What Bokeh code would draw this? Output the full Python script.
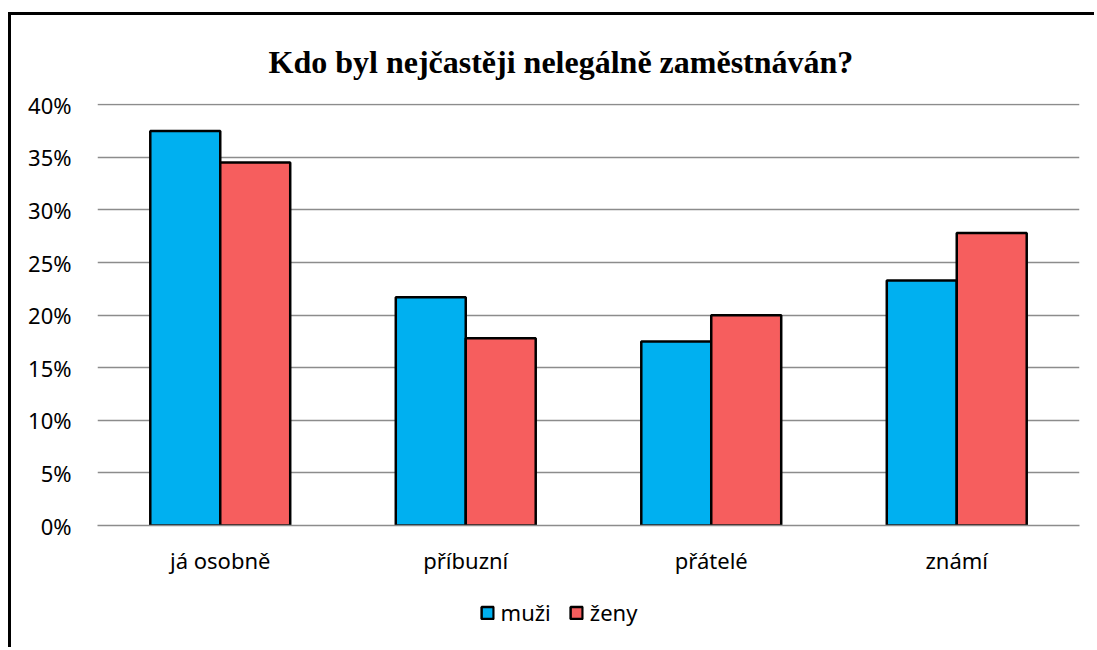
from bokeh.plotting import figure
from bokeh.layouts import column
from bokeh.models import (ColumnDataSource, FactorRange, Range1d, FixedTicker,
                          NumeralTickFormatter, Legend, LegendItem)
from bokeh.transform import dodge
from bokeh.embed import file_html
from bokeh.resources import INLINE

categories = ["já osobně", "příbuzní", "přátelé", "známí"]
muzi = [0.375, 0.217, 0.175, 0.233]
zeny = [0.345, 0.178, 0.200, 0.278]
y_ticks = [0, 0.05, 0.10, 0.15, 0.20, 0.25, 0.30, 0.35, 0.40]
series = ["muži", "ženy"]
colors = ["#00B0F0", "#F65E5E"]
title = "Kdo byl nejčastěji nelegálně zaměstnáván?"

src = ColumnDataSource(dict(cat=categories, muzi=muzi, zeny=zeny))

FONT = "Noto Sans"
p = figure(width=1086, height=565, x_range=FactorRange(*categories),
           y_range=Range1d(0, 0.4012), output_backend="svg", toolbar_location=None,
           min_border_left=86, min_border_right=18, min_border_top=88, min_border_bottom=55)
p.x_range.range_padding = 0
p.margin = (12, 0, 0, 8)
p.styles = {"border-left": "3px solid black", "border-top": "3px solid black"}

bar_w = 0.285
r1 = p.vbar(x=dodge("cat", -bar_w / 2, range=p.x_range), top="muzi", width=bar_w, source=src,
            fill_color=colors[0], line_color="black", line_width=2.5)
r2 = p.vbar(x=dodge("cat", bar_w / 2, range=p.x_range), top="zeny", width=bar_w, source=src,
            fill_color=colors[1], line_color="black", line_width=2.5)

p.title.text = title
p.title.text_font = "Liberation Serif"
p.title.text_font_style = "bold"
p.title.text_font_size = "32px"
p.title.text_color = "black"
p.title.align = "left"
p.title.offset = 171
p.title.standoff = 48

p.outline_line_color = None
p.xgrid.grid_line_color = None
p.ygrid.grid_line_color = "#8c8c8c"
p.ygrid.grid_line_width = 1.5
p.yaxis.ticker = FixedTicker(ticks=y_ticks)
p.yaxis.formatter = NumeralTickFormatter(format="0%")
p.yaxis.axis_line_color = None
p.yaxis.major_tick_line_color = None
p.yaxis.major_tick_out = 0
p.yaxis.major_tick_in = 0
p.yaxis.minor_tick_line_color = None
p.yaxis.major_label_text_font = FONT
p.yaxis.major_label_text_font_size = "22px"
p.yaxis.major_label_standoff = 26
p.yaxis.major_label_text_color = "black"

p.xaxis.axis_line_color = "#8c8c8c"
p.xaxis.axis_line_width = 1.5
p.xaxis.major_tick_line_color = None
p.xaxis.major_tick_out = 0
p.xaxis.major_tick_in = 0
p.xaxis.minor_tick_line_color = None
p.xaxis.major_label_text_font = FONT
p.xaxis.major_label_text_font_size = "22px"
p.xaxis.major_label_standoff = 19
p.xaxis.major_label_text_color = "black"

# legend strip below the chart; its renderers are zero-sized bars outside the
# visible y-range, so only their legend swatches appear
lg = figure(width=1086, height=70, output_backend="svg", toolbar_location=None,
            x_range=FactorRange(*categories), y_range=Range1d(1, 2),
            x_axis_location=None, y_axis_location=None,
            min_border_left=0, min_border_right=0, min_border_top=0, min_border_bottom=0)
lg.margin = (0, 0, 0, 8)
lg.styles = {"border-left": "3px solid black"}
lg.outline_line_color = None
lg.grid.grid_line_color = None
items = []
for name, col, key in zip(series, colors, ["muzi", "zeny"]):
    rr = lg.vbar(x="cat", top=key, bottom=key, width=0, source=src,
                 fill_color=col, line_color="black", line_width=2.5)
    items.append(LegendItem(label=name, renderers=[rr]))
# invisible spacer entry so the centred legend sits a little left, as in the original
sp = lg.vbar(x="cat", top="zeny", bottom="zeny", width=0, source=src,
             fill_alpha=0, line_alpha=0)
items.append(LegendItem(label=" ", renderers=[sp]))
legend = Legend(items=items, orientation="horizontal", location="center",
                glyph_width=15, glyph_height=15, label_text_font=FONT,
                label_text_font_size="22px", label_text_color="black",
                border_line_color=None, background_fill_alpha=0,
                spacing=18, label_standoff=6, padding=0, margin=0)
lg.add_layout(legend, "center")

layout = column(p, lg, spacing=0)
open("out.html", "w").write(file_html(layout, INLINE))
